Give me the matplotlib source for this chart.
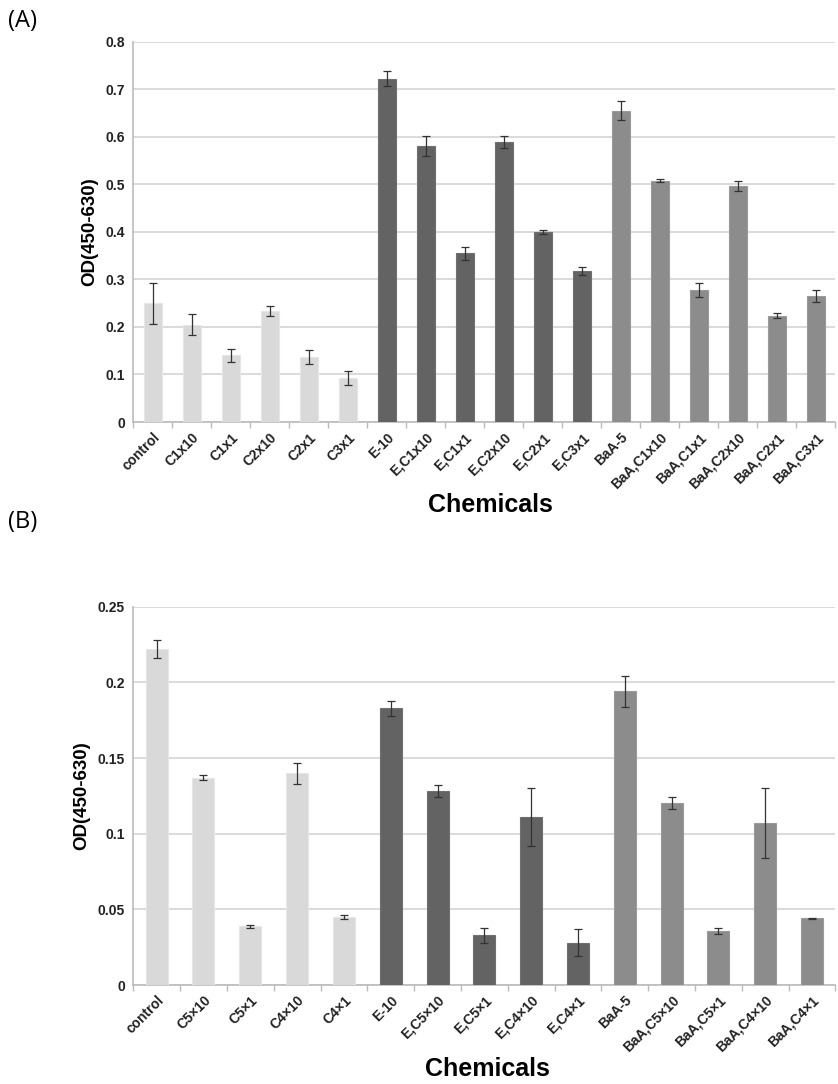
import matplotlib
matplotlib.use("Agg")
import matplotlib.pyplot as plt
import numpy as np

plt.rcParams['font.family'] = ['Liberation Sans', 'DejaVu Sans']

# Panel (A)
labels_a = ["control", "C1x10", "C1x1", "C2x10", "C2x1", "C3x1",
            "E-10", "E,C1x10", "E,C1x1", "E,C2x10", "E,C2x1", "E,C3x1",
            "BaA-5", "BaA,C1x10", "BaA,C1x1", "BaA,C2x10", "BaA,C2x1", "BaA,C3x1"]
values_a = [0.250, 0.205, 0.140, 0.234, 0.137, 0.092,
            0.723, 0.580, 0.355, 0.590, 0.400, 0.318,
            0.655, 0.508, 0.278, 0.497, 0.224, 0.265]
errors_a = [0.043, 0.022, 0.013, 0.010, 0.015, 0.015,
            0.016, 0.021, 0.013, 0.013, 0.005, 0.009,
            0.020, 0.003, 0.015, 0.010, 0.006, 0.013]
groups_a = [0] * 6 + [1] * 6 + [2] * 6

# Panel (B)
labels_b = ["control", "C5×10", "C5×1", "C4×10", "C4×1",
            "E-10", "E,C5×10", "E,C5×1", "E,C4×10", "E,C4×1",
            "BaA-5", "BaA,C5×10", "BaA,C5×1", "BaA,C4×10", "BaA,C4×1"]
values_b = [0.222, 0.137, 0.039, 0.140, 0.045,
            0.183, 0.128, 0.033, 0.111, 0.028,
            0.194, 0.120, 0.036, 0.107, 0.044]
errors_b = [0.006, 0.0015, 0.001, 0.007, 0.0015,
            0.005, 0.004, 0.005, 0.019, 0.009,
            0.010, 0.004, 0.002, 0.023, 0.0005]
groups_b = [0] * 5 + [1] * 5 + [2] * 5

couleurs = ["#d9d9d9", "#636363", "#8c8c8c"]
bords = ["#e6e6e6", "#707070", "#9a9a9a"]


def tracer(ax, labels, values, errors, groups, ymax, step):
    x = np.arange(len(labels))
    ax.bar(x, values, width=0.47,
           color=[couleurs[g] for g in groups],
           edgecolor=[bords[g] for g in groups], linewidth=0.8, zorder=3)
    ax.errorbar(x, values, yerr=errors, fmt="none", ecolor="#333333",
                elinewidth=0.9, capsize=3, capthick=0.9, zorder=4)
    ax.set_xlim(-0.5, len(labels) - 0.5)
    ax.set_ylim(0, ymax)
    graduations = np.arange(0, ymax + step / 2, step)
    ax.set_yticks(graduations)
    ax.set_yticklabels([f"{v:g}" for v in graduations],
                       fontweight="bold", fontsize=10, color="#222222")
    ax.yaxis.grid(True, color="#d4d4d4", linewidth=1.2, zorder=0)
    ax.set_axisbelow(True)
    for s in ["top", "right"]:
        ax.spines[s].set_visible(False)
    for s in ["left", "bottom"]:
        ax.spines[s].set_color("#bbbbbb")
        ax.spines[s].set_linewidth(1.2)
    ax.tick_params(axis="y", length=0, pad=6)
    # petits traits entre les catégories
    ax.set_xticks(np.arange(-0.5, len(labels), 1.0), minor=True)
    ax.tick_params(axis="x", which="minor", length=4, color="#bbbbbb", width=1)
    ax.set_xticks(x)
    ax.set_xticklabels(labels, rotation=45, ha="right", rotation_mode="anchor",
                       fontweight="bold", fontsize=10, color="#222222")
    ax.tick_params(axis="x", which="major", length=0, pad=6)
    ax.set_ylabel("OD(450-630)", fontweight="bold", fontsize=13.5, labelpad=5)


fig = plt.figure(figsize=(8.38, 10.84), dpi=100)

ax1 = fig.add_axes([0.159, 0.6107, 0.838, 0.3506])
tracer(ax1, labels_a, values_a, errors_a, groups_a, 0.8, 0.1)
fig.text(0.010, 0.981, "(A)", fontsize=17, va="center", family=["Open Sans", "DejaVu Sans"])
fig.text(0.585, 0.534, "Chemicals", fontsize=18, fontweight="bold", ha="center", va="center")

ax2 = fig.add_axes([0.159, 0.0913, 0.838, 0.349])
tracer(ax2, labels_b, values_b, errors_b, groups_b, 0.25, 0.05)
fig.text(0.010, 0.5185, "(B)", fontsize=17, va="center", family=["Open Sans", "DejaVu Sans"])
fig.text(0.582, 0.0135, "Chemicals", fontsize=18, fontweight="bold", ha="center", va="center")

fig.savefig("out.png", dpi=100, facecolor="white")
